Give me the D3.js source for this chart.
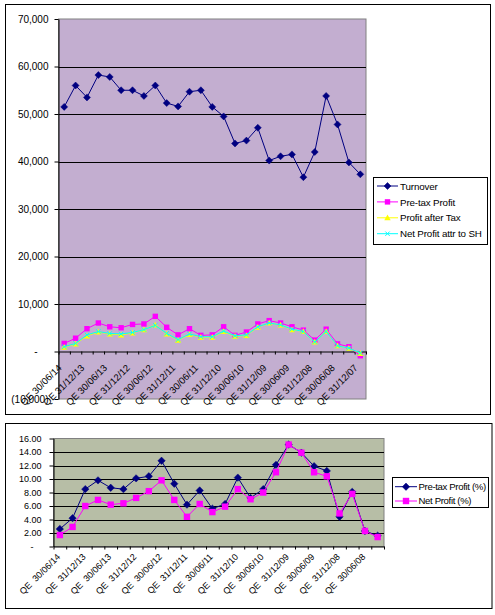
<!DOCTYPE html>
<html>
<head>
<meta charset="utf-8">
<script src="https://cdn.jsdelivr.net/npm/d3@7"></script>
<style>
  html, body { margin: 0; padding: 0; background: #ffffff; }
  svg { display: block; font-family: "Liberation Sans", Arial, sans-serif; }
  text { white-space: pre; }
</style>
</head>
<body>
<script>
// ---------------- DATA ----------------
const quarters = [
  "QE 30/06/14", "QE 31/03/14", "QE 31/12/13", "QE 30/09/13", "QE 30/06/13", "QE 31/03/13",
  "QE 31/12/12", "QE 30/09/12", "QE 30/06/12", "QE 31/03/12", "QE 31/12/11", "QE 30/09/11",
  "QE 30/06/11", "QE 31/03/11", "QE 31/12/10", "QE 30/09/10", "QE 30/06/10", "QE 31/03/10",
  "QE 31/12/09", "QE 30/09/09", "QE 30/06/09", "QE 31/03/09", "QE 31/12/08", "QE 30/09/08",
  "QE 30/06/08", "QE 31/03/08", "QE 31/12/07"
];
const turnover = [51500, 56000, 53500, 58200, 57800, 55000, 55000, 53800, 56000, 52300, 51600, 54700, 55000, 51500,
                  49500, 43800, 44400, 47100, 40200, 41100, 41500, 36700, 42000, 53800, 47800, 39800, 37300];
const preTaxProfit = [1700, 2800, 4800, 6000, 5200, 5000, 5700, 5800, 7400, 5100, 3500, 4800, 3400, 3500,
                      5200, 3400, 4100, 5800, 6500, 6000, 5200, 4500, 2400, 4700, 1600, 1000, -900];
const profitAfterTax = [900, 1600, 3300, 4100, 3700, 3500, 3900, 4600, 5600, 3700, 2400, 3600, 3000, 3000,
                        4200, 3200, 3400, 5100, 6000, 5600, 4600, 4200, 2000, 4200, 1200, 700, -400];
const netProfitSH = [1000, 1700, 3500, 4200, 3800, 3700, 4000, 4600, 5500, 3800, 2500, 3700, 3100, 3100,
                     4300, 3300, 3500, 5200, 6000, 5600, 4700, 4200, 2000, 4200, 1200, 700, -300];
const topYTicks = [-10000, 0, 10000, 20000, 30000, 40000, 50000, 60000, 70000];
const topSeriesNames = ["Turnover", "Pre-tax Profit", "Profit after Tax", "Net Profit attr to SH"];

const pctQuarters = quarters.slice(0, 26);
const pctLabels = pctQuarters.map(q => q.replace("QE ", "QE  "));
const preTaxPct = [2.6, 4.2, 8.5, 9.8, 8.7, 8.5, 10.1, 10.4, 12.7, 9.3, 6.2, 8.3, 5.6, 6.3,
                   10.2, 7.2, 8.5, 12.1, 15.1, 13.9, 11.9, 11.2, 4.4, 8.1, 2.3, 1.6];
const netPct = [1.7, 2.9, 6.0, 6.9, 6.2, 6.4, 7.2, 8.2, 9.8, 6.9, 4.4, 6.3, 5.1, 5.9,
                8.5, 7.0, 8.0, 11.0, 15.1, 13.9, 11.0, 10.4, 4.9, 7.8, 2.3, 1.4];
const bottomYTicks = [0, 2, 4, 6, 8, 10, 12, 14, 16];
const bottomSeriesNames = ["Pre-tax Profit (%)", "Net Profit (%)"];

// ---------------- DRAWING ----------------
const svg = d3.select("body").append("svg").attr("width", 495).attr("height", 615);
svg.append("rect").attr("width", 495).attr("height", 615).attr("fill", "#fff");

function diamond(g, cx, cy, s, color) {
  g.append("path")
    .attr("d", `M${cx},${cy - s}L${cx + s},${cy}L${cx},${cy + s}L${cx - s},${cy}Z`)
    .attr("fill", color).attr("stroke", color).attr("stroke-width", 0.5);
}
function square(g, cx, cy, s, color) {
  g.append("rect").attr("x", cx - s).attr("y", cy - s).attr("width", 2 * s).attr("height", 2 * s)
    .attr("fill", color);
}
function triangle(g, cx, cy, s, color) {
  g.append("path")
    .attr("d", `M${cx},${cy - s}L${cx + s},${cy + s * 0.8}L${cx - s},${cy + s * 0.8}Z`)
    .attr("fill", color);
}
function cross(g, cx, cy, s, color) {
  g.append("path")
    .attr("d", `M${cx - s},${cy - s}L${cx + s},${cy + s}M${cx - s},${cy + s}L${cx + s},${cy - s}`)
    .attr("stroke", color).attr("stroke-width", 1).attr("fill", "none");
}

// ===== TOP CHART =====
svg.append("rect").attr("x", 5.5).attr("y", 4.5).attr("width", 485).attr("height", 410)
  .attr("fill", "#fff").attr("stroke", "#000").attr("stroke-width", 1);

const T = { left: 58.5, right: 366, top: 19, bottom: 399 };
const xT = d3.scaleBand().domain(quarters).range([T.left, T.right]).padding(0);
const xTLin = d3.scaleLinear().domain([0, quarters.length]).range([T.left, T.right]);
const yT = d3.scaleLinear().domain([-10000, 70000]).range([T.bottom, T.top]);
const cxT = (i) => xT(quarters[i]) + xT.bandwidth() / 2;

svg.append("rect").attr("x", T.left).attr("y", T.top).attr("width", T.right - T.left).attr("height", T.bottom - T.top)
  .attr("fill", "#c3aed0").attr("stroke", "#808080").attr("stroke-width", 1);

// gridlines
svg.append("g").selectAll("line").data(topYTicks.filter(v => v > 0 && v < 70000)).join("line")
  .attr("x1", T.left).attr("x2", T.right)
  .attr("y1", d => Math.round(yT(d)) + 0.5).attr("y2", d => Math.round(yT(d)) + 0.5)
  .attr("stroke", "#000").attr("stroke-width", 1);

// y axis
const fmtTop = (v) => v === 0 ? "-" : v < 0 ? "(" + d3.format(",")(-v) + ")" : d3.format(",")(v);
const yAxT = svg.append("g").attr("transform", `translate(${T.left},0)`)
  .call(d3.axisLeft(yT).tickValues(topYTicks).tickFormat(fmtTop).tickSize(4).tickSizeOuter(0).tickPadding(6));
yAxT.select(".domain").attr("stroke", "#000");
yAxT.selectAll(".tick line").attr("stroke", "#000");
yAxT.selectAll(".tick text").attr("font-size", 10).attr("font-family", "Liberation Sans, Arial, sans-serif")
  .attr("fill", "#000").attr("dx", d => d === 0 ? -11 : 0);

// x axis at zero
const xAxT = svg.append("g").attr("transform", `translate(0,${yT(0)})`)
  .call(d3.axisBottom(xTLin).tickValues(d3.range(quarters.length + 1)).tickFormat("").tickSize(3).tickSizeOuter(0));
xAxT.select(".domain").attr("stroke", "#000");
xAxT.selectAll(".tick line").attr("stroke", "#000");

// x labels
svg.append("g").selectAll("text").data(quarters.filter((q, i) => i % 2 === 0)).join("text")
  .attr("transform", d => `translate(${xT(d) + xT.bandwidth() / 2 - 2},${yT(0) + 17}) rotate(-45)`)
  .attr("text-anchor", "end").attr("font-size", 9.5).attr("fill", "#000")
  .text(d => d);

// series
const lineT = d3.line().x((d, i) => cxT(i)).y(d => yT(d));
const topSeries = [
  { data: turnover, color: "#000080", marker: (g, x, y) => diamond(g, x, y, 3.5, "#000080") },
  { data: preTaxProfit, color: "#ff00ff", marker: (g, x, y) => square(g, x, y, 2.7, "#ff00ff") },
  { data: profitAfterTax, color: "#ffff00", marker: (g, x, y) => triangle(g, x, y, 3.2, "#ffff00") },
  { data: netProfitSH, color: "#00ffff", marker: (g, x, y) => cross(g, x, y, 2.2, "#00ffff") }
];
topSeries.forEach(s => {
  const g = svg.append("g");
  g.append("path").datum(s.data).attr("d", lineT).attr("fill", "none").attr("stroke", s.color).attr("stroke-width", 1);
  s.data.forEach((v, i) => s.marker(g, cxT(i), yT(v)));
});

// legend top
const legT = svg.append("g");
legT.append("rect").attr("x", 373.5).attr("y", 177.5).attr("width", 114).attr("height", 67)
  .attr("fill", "#fff").attr("stroke", "#000").attr("stroke-width", 1);
topSeriesNames.forEach((name, i) => {
  const y = 186 + i * 15.9;
  const s = topSeries[i];
  legT.append("line").attr("x1", 377).attr("x2", 398).attr("y1", y).attr("y2", y)
    .attr("stroke", s.color).attr("stroke-width", 1);
  s.marker(legT, 387.5, y);
  legT.append("text").attr("x", 400).attr("y", y + 3.6).attr("font-size", 9.8).attr("letter-spacing", -0.15)
    .attr("fill", "#000").text(name);
});

// ===== BOTTOM CHART =====
svg.append("rect").attr("x", 5.5).attr("y", 423.5).attr("width", 486.5).attr("height", 185)
  .attr("fill", "#fff").attr("stroke", "#000").attr("stroke-width", 1);

const B = { left: 53.5, right: 384, top: 438.5, bottom: 546.5 };
const xB = d3.scaleBand().domain(pctQuarters).range([B.left, B.right]).padding(0);
const xBLin = d3.scaleLinear().domain([0, pctQuarters.length]).range([B.left, B.right]);
const yB = d3.scaleLinear().domain([0, 16]).range([B.bottom, B.top]);
const cxB = (i) => xB(pctQuarters[i]) + xB.bandwidth() / 2;

svg.append("rect").attr("x", B.left).attr("y", B.top).attr("width", B.right - B.left).attr("height", B.bottom - B.top)
  .attr("fill", "#b7bea6").attr("stroke", "#808080").attr("stroke-width", 1);

svg.append("g").selectAll("line").data(bottomYTicks.filter(v => v > 0 && v < 16)).join("line")
  .attr("x1", B.left).attr("x2", B.right)
  .attr("y1", d => Math.round(yB(d)) + 0.5).attr("y2", d => Math.round(yB(d)) + 0.5)
  .attr("stroke", "#000").attr("stroke-width", 1);

const fmtBot = (v) => v === 0 ? "-" : d3.format(".2f")(v);
const yAxB = svg.append("g").attr("transform", `translate(${B.left},0)`)
  .call(d3.axisLeft(yB).tickValues(bottomYTicks).tickFormat(fmtBot).tickSize(4).tickSizeOuter(0).tickPadding(8));
yAxB.select(".domain").attr("stroke", "#000");
yAxB.selectAll(".tick line").attr("stroke", "#000");
yAxB.selectAll(".tick text").attr("font-size", 9).attr("font-family", "Liberation Sans, Arial, sans-serif")
  .attr("fill", "#000").attr("dx", d => d === 0 ? -8 : 0);

const xAxB = svg.append("g").attr("transform", `translate(0,${B.bottom})`)
  .call(d3.axisBottom(xBLin).tickValues(d3.range(pctQuarters.length + 1)).tickFormat("").tickSize(3).tickSizeOuter(0));
xAxB.select(".domain").attr("stroke", "#000");
xAxB.selectAll(".tick line").attr("stroke", "#000");

svg.append("g").selectAll("text").data(pctQuarters.map((q, i) => i).filter(i => i % 2 === 0)).join("text")
  .attr("transform", i => `translate(${cxB(i) + 1},${B.bottom + 11}) rotate(-45)`)
  .attr("text-anchor", "end").attr("font-size", 9).attr("fill", "#000")
  .text(i => pctLabels[i]);

const lineB = d3.line().x((d, i) => cxB(i)).y(d => yB(d));
const bottomSeries = [
  { data: preTaxPct, color: "#000080", marker: (g, x, y) => diamond(g, x, y, 3.7, "#000080") },
  { data: netPct, color: "#ff00ff", marker: (g, x, y) => square(g, x, y, 3.2, "#ff00ff") }
];
bottomSeries.forEach(s => {
  const g = svg.append("g");
  g.append("path").datum(s.data).attr("d", lineB).attr("fill", "none").attr("stroke", s.color).attr("stroke-width", 1);
  s.data.forEach((v, i) => s.marker(g, cxB(i), yB(v)));
});

const legB = svg.append("g");
legB.append("rect").attr("x", 392.5).attr("y", 477.5).attr("width", 96).attr("height", 30)
  .attr("fill", "#fff").attr("stroke", "#000").attr("stroke-width", 1);
bottomSeriesNames.forEach((name, i) => {
  const y = 486.7 + i * 14.3;
  const s = bottomSeries[i];
  legB.append("line").attr("x1", 395).attr("x2", 417).attr("y1", y).attr("y2", y)
    .attr("stroke", s.color).attr("stroke-width", 1);
  s.marker(legB, 406, y);
  legB.append("text").attr("x", 418.5).attr("y", y + 3.4).attr("font-size", 9.6).attr("letter-spacing", -0.35)
    .attr("fill", "#000").text(name);
});
</script>
</body>
</html>
